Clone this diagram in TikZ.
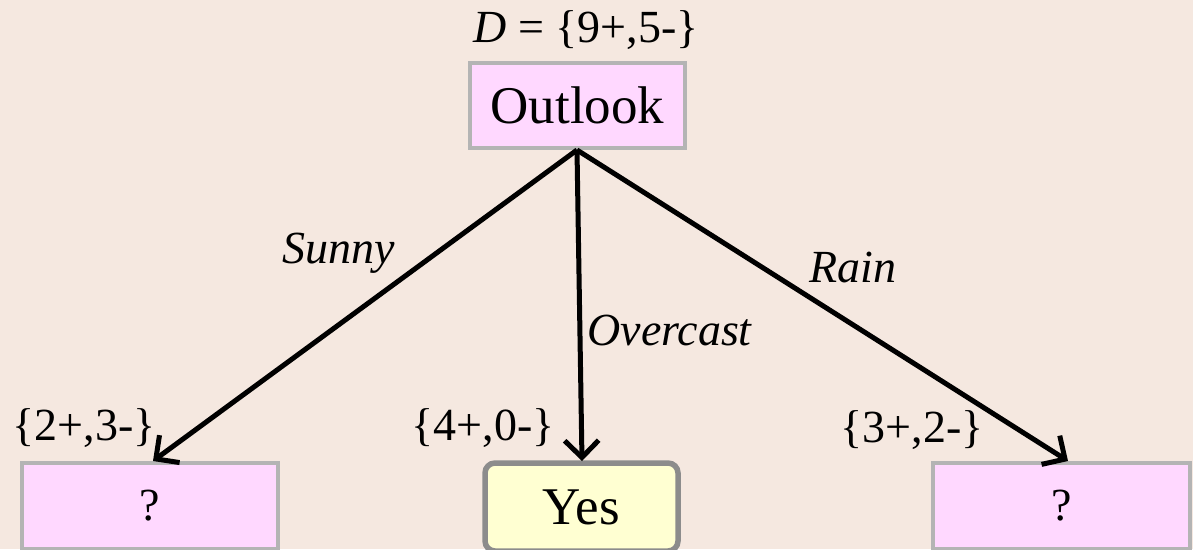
\documentclass[tikz,border=0pt]{standalone}
\usepackage{fontspec}
\setmainfont{Liberation Serif}
\usetikzlibrary{arrows.meta}
\definecolor{bg}{HTML}{F5E8E0}
\definecolor{pinkbox}{HTML}{FFD8FF}
\definecolor{yelbox}{HTML}{FFFFD2}
\definecolor{gborder}{HTML}{B4B4B4}
\definecolor{yborder}{HTML}{8C8C8C}
\tikzset{
  attr/.style={draw=gborder, line width=4.5pt, fill=pinkbox, inner sep=0pt,
    font=\fontsize{53}{56}\selectfont},
  leafbox/.style={draw=yborder, line width=5.5pt, fill=yelbox, rounded corners=10pt,
    inner sep=0pt, font=\fontsize{53}{56}\selectfont},
  lbl/.style={font=\fontsize{46}{50}\selectfont, inner sep=0pt},
  edge/.style={line width=5pt, -{Straight Barb[length=17pt,width=34pt,line width=5pt]}},
}
\begin{document}
\begin{tikzpicture}[x=1pt,y=-1pt]
\useasboundingbox (0,0) rectangle (1193,549);
\fill[bg] (0,0) rectangle (1193,549);
\node[attr, minimum width=215pt, minimum height=85pt] (out) at (577.5,105.5) {Outlook};
\node[attr, minimum width=256pt, minimum height=86pt, font=\fontsize{46}{50}\selectfont] (q1) at (150,506) {?};
\node[leafbox, minimum width=193pt, minimum height=88pt] (yes) at (581.5,507) {Yes};
\node[attr, minimum width=257pt, minimum height=86pt, font=\fontsize{46}{50}\selectfont] (q2) at (1061.5,506) {?};
\node[lbl] (d) at (586,30) {\textit{D} = \{9+,5-\}};
\coordinate (root) at (577,150);
\coordinate (t1) at (153,461);
\coordinate (t2) at (582,461);
\coordinate (t3) at (1068,461);
\draw[edge] (root) -- (t1);
\draw[edge] (root) -- (t2);
\draw[edge] (root) -- (t3);
\node[lbl] (s1) at (84,428) {\{2+,3-\}};
\node[lbl] (s2) at (483,428) {\{4+,0-\}};
\node[lbl] (s3) at (912,430) {\{3+,2-\}};
\node[lbl] (sunny) at (339,253) {\textit{Sunny}};
\node[lbl] (over) at (670,331) {\textit{Overcast}};
\node[lbl] (rain) at (853,268) {\textit{Rain}};
\end{tikzpicture}
\end{document}
